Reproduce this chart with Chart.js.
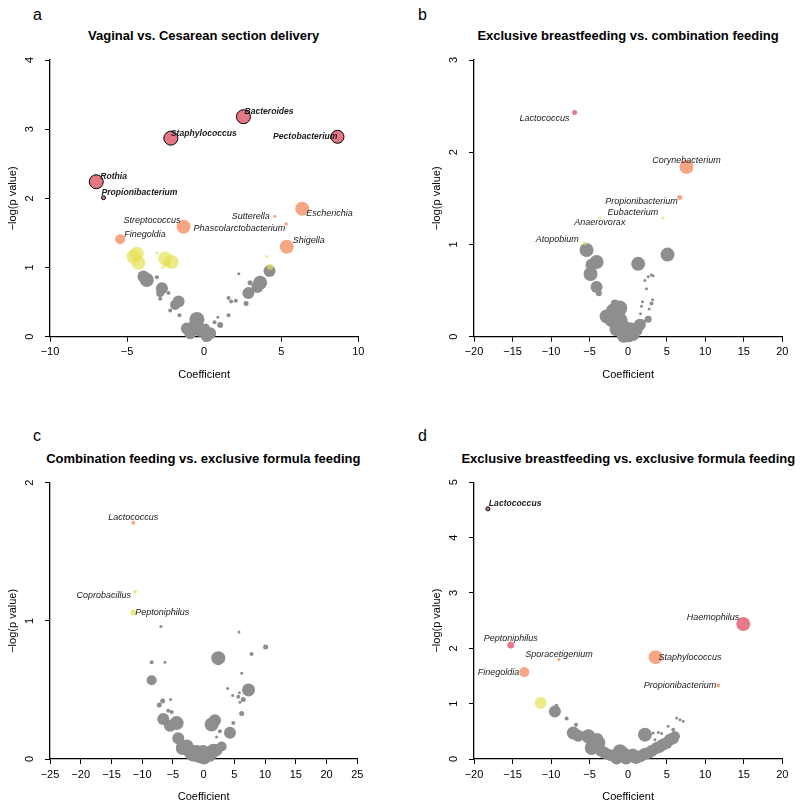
<!DOCTYPE html>
<html>
<head>
<meta charset="utf-8">
<script src="https://cdn.jsdelivr.net/npm/chart.js@4.4.0/dist/chart.umd.min.js"></script>
<style>
  body { margin: 0; background: #fff; width: 800px; height: 809px; position: relative; overflow: hidden;
         font-family: "Liberation Sans", Arial, Helvetica, sans-serif; color: #000; }
  canvas { position: absolute; }
  .letter { position: absolute; font-size: 16px; line-height: 16px; }
  .title { position: absolute; width: 400px; text-align: center; font-size: 13px; line-height: 13px; font-weight: bold; }
</style>
</head>
<body>
<div class="letter" style="left:33px;top:6.5px">a</div>
<div class="letter" style="left:418px;top:6.5px">b</div>
<div class="letter" style="left:33px;top:428px">c</div>
<div class="letter" style="left:418px;top:428px">d</div>
<div class="title" style="left:3.7px;top:29px">Vaginal vs. Cesarean section delivery</div>
<div class="title" style="left:428px;top:29px">Exclusive breastfeeding vs. combination feeding</div>
<div class="title" style="left:3.3px;top:452px">Combination feeding vs. exclusive formula feeding</div>
<div class="title" style="left:428.3px;top:452px">Exclusive breastfeeding vs. exclusive formula feeding</div>

<canvas id="pa" width="400" height="400" style="left:0;top:0"></canvas>
<canvas id="pb" width="400" height="400" style="left:400px;top:0"></canvas>
<canvas id="pc" width="400" height="409" style="left:0;top:400px"></canvas>
<canvas id="pd" width="400" height="409" style="left:400px;top:400px"></canvas>

<script>
// points: [coefficient, -log(p), size, genus]
// sig = after correction (black outline, bold label)

// --- a: Vaginal vs. Cesarean ---
const aSig = [[2.55, 3.18, 7, 'Bacteroides'], [-2.16, 2.87, 7, 'Staphylococcus'], [8.65, 2.89, 6.5, 'Pectobacterium'],
              [-7.0, 2.24, 7, 'Rothia'], [-6.53, 2.01, 2, 'Propionibacterium']];
const aSalmon = [[6.36, 1.85, 7, 'Escherichia'], [4.58, 1.74, 1.5, 'Sutterella'], [5.32, 1.63, 1.8, 'Phascolarctobacterium'],
                 [-1.34, 1.59, 7, 'Streptococcus'], [5.36, 1.30, 7, 'Shigella'], [-5.45, 1.41, 5, 'Finegoldia']];
const aYellow = [[-4.37, 1.20, 7], [-4.58, 1.16, 7], [-4.26, 1.07, 7], [-3.07, 1.21, 1.5], [-2.53, 1.13, 7],
                 [-2.1, 1.08, 7], [-2.42, 1.06, 4], [-2.68, 1.0, 1.5], [4.06, 1.16, 1.5], [4.28, 1.01, 3]];
const aGray = [[-3.72, 0.82, 7], [-3.94, 0.87, 6], [-3.07, 0.86, 2], [-2.74, 0.70, 6], [-2.85, 0.63, 4], [-2.85, 0.55, 2],
               [-2.31, 0.63, 2], [-1.66, 0.51, 6], [-1.88, 0.46, 5], [-2.2, 0.38, 2], [-1.6, 0.31, 2], [-0.47, 0.25, 7.5],
               [-0.6, 0.18, 6], [-1.12, 0.12, 6], [-0.9, 0.05, 6], [-0.69, 0.10, 6], [-0.26, 0.07, 5], [0.39, 0.05, 6],
               [0.17, 0.01, 6], [0.05, 0.12, 5], [1.04, 0.17, 3], [0.67, 0.21, 2], [0.89, 0.28, 1.5], [1.58, 0.31, 2],
               [1.58, 0.56, 2], [1.75, 0.51, 2], [2.05, 0.52, 2], [2.25, 0.91, 1.5], [2.98, 0.78, 2.5], [2.72, 0.48, 2.5],
               [2.87, 0.63, 6], [3.63, 0.78, 7], [3.45, 0.72, 6], [4.24, 0.95, 6]];

// --- b: Exclusive breastfeeding vs. combination ---
const bRed = [[-6.95, 2.43, 2.5, 'Lactococcus']];
const bSalmon = [[7.57, 1.84, 7, 'Corynebacterium'], [6.70, 1.51, 2.5, 'Propionibacterium']];
const bYellow = [[4.54, 1.29, 1.5, 'Eubacterium'], [-3.67, 1.29, 1.5, 'Anaerovorax'], [-5.62, 1.01, 2, 'Atopobium']];
const bGray = [[-5.4, 0.94, 7], [-4.1, 0.81, 7], [-4.75, 0.78, 6], [-4.88, 0.68, 7], [-4.1, 0.54, 6], [-3.8, 0.47, 3],
               [1.30, 0.79, 7], [5.11, 0.89, 7], [2.6, 0.65, 1.5], [3.24, 0.66, 1.5], [3.0, 0.67, 1.5], [2.17, 0.61, 1.5],
               [2.38, 0.52, 1.5], [3.16, 0.40, 1.5], [3.03, 0.36, 2], [1.86, 0.38, 1.5], [1.73, 0.33, 1.5], [2.73, 0.30, 1.5],
               [1.6, 0.25, 1.5], [2.6, 0.19, 3.5], [1.95, 0.16, 2.5], [-2.8, 0.22, 7], [-1.08, 0.31, 7.5], [-1.73, 0.36, 4],
               [-2.15, 0.18, 7], [-1.51, 0.22, 7.5], [-2.0, 0.28, 7], [-0.86, 0.07, 7], [-0.64, 0.11, 7], [-0.22, 0.04, 7],
               [0.0, 0.02, 7.5], [-1.5, 0.08, 7], [-1.0, 0.18, 7], [1.09, 0.07, 6], [1.52, 0.13, 6], [-0.56, 0.01, 7],
               [0.6, 0.03, 7], [0.3, 0.08, 7], [-1.2, 0.2, 7]];

// --- c: Combination vs. exclusive formula ---
const cSalmon = [[-11.45, 1.71, 2, 'Lactococcus']];
const cYellow = [[-11.18, 1.21, 2, 'Coprobacillus'], [-11.45, 1.06, 3, 'Peptoniphilus']];
const cGray = [[-6.95, 0.96, 1.5], [5.74, 0.92, 1.5], [10.08, 0.81, 2.5], [7.8, 0.76, 2], [-8.46, 0.70, 2], [-6.3, 0.70, 1.5],
               [2.38, 0.73, 7], [-8.46, 0.57, 5], [6.18, 0.62, 1.5], [3.9, 0.51, 1.5], [7.3, 0.50, 6.5], [5.8, 0.48, 1.5],
               [4.72, 0.46, 1.5], [5.63, 0.45, 2], [6.44, 0.43, 2.5], [5.9, 0.41, 1.5], [6.18, 0.33, 2.5], [4.82, 0.26, 2],
               [4.28, 0.19, 6], [1.3, 0.25, 7], [1.84, 0.28, 6], [2.1, 0.16, 1.5], [2.65, 0.20, 2], [2.1, 0.10, 1.5],
               [-6.67, 0.42, 2.5], [-7.22, 0.39, 2.5], [-5.37, 0.43, 1.5], [-5.76, 0.35, 2], [-5.2, 0.34, 2],
               [-6.57, 0.29, 6], [-4.4, 0.26, 7], [-5.48, 0.24, 6], [-4.13, 0.15, 6], [-2.77, 0.09, 7], [-1.14, 0.05, 7],
               [-0.6, 0.02, 7], [0.49, 0.04, 7], [2.12, 0.065, 6], [2.93, 0.09, 5], [0.05, 0.01, 7], [-2.0, 0.03, 6],
               [-3.4, 0.08, 7], [-2.3, 0.06, 7], [-1.6, 0.03, 7], [1.0, 0.03, 7], [1.6, 0.06, 7], [-0.1, 0.05, 7]];

// --- d: Exclusive breastfeeding vs. exclusive formula ---
const dSig = [[-18.2, 4.52, 2, 'Lactococcus']];
const dRed = [[14.93, 2.44, 7, 'Haemophilus'], [-15.24, 2.06, 3.5, 'Peptoniphilus']];
const dSalmon = [[-8.98, 1.80, 1.5, 'Sporacetigenium'], [3.56, 1.84, 7, 'Staphylococcus'],
                 [-13.47, 1.57, 5, 'Finegoldia'], [11.69, 1.33, 2, 'Propionibacterium']];
const dYellow = [[-11.35, 1.01, 6]];
const dGray = [[-9.5, 0.86, 6], [-9.3, 0.96, 2], [-7.98, 0.73, 2], [-7.12, 0.47, 6.5], [-6.77, 0.62, 2], [-5.17, 0.41, 7],
               [-4.52, 0.29, 7], [-4.73, 0.2, 7], [-3.74, 0.30, 6], [-3.0, 0.11, 6], [-1.06, 0.14, 7], [-1.5, 0.01, 6],
               [0.23, 0.05, 6], [-0.3, 0.01, 6], [1.0, 0.02, 6], [2.18, 0.44, 7], [2.6, 0.11, 6], [3.69, 0.2, 6],
               [4.55, 0.26, 6], [5.42, 0.35, 6], [6.07, 0.41, 5], [3.26, 0.47, 1.5], [3.91, 0.48, 1.5], [4.34, 0.46, 1.5],
               [3.48, 0.35, 1.5], [4.12, 0.32, 1.5], [6.29, 0.74, 1.5], [6.72, 0.71, 1.5], [7.15, 0.68, 1.5],
               [5.2, 0.59, 1.5], [5.85, 0.53, 2], [-6.5, 0.42, 6], [-4.0, 0.36, 6], [-3.5, 0.15, 6], [-2.3, 0.07, 6],
               [-0.6, 0.09, 7], [0.6, 0.08, 6], [1.6, 0.05, 6], [2.1, 0.09, 6], [3.1, 0.15, 6], [4.1, 0.22, 6],
               [5.0, 0.29, 6], [5.8, 0.37, 6]];

const xTicksA = [-10, 10, 5], xTicksB = [-20, 20, 5], xTicksC = [-25, 25, 5], xTicksD = [-20, 20, 5];
const yMaxA = 4, yMaxB = 3, yMaxC = 2, yMaxD = 5;

// label placement [dx, dy, align]
const labelPosA = { Bacteroides: [1, -5, 'left'], Staphylococcus: [0, -5, 'left'], Pectobacterium: [0, 0, 'right'],
  Rothia: [4, -5, 'left'], Propionibacterium: [-2, -5, 'left'], Escherichia: [4, 5, 'left'], Sutterella: [-5, 0, 'right'],
  Phascolarctobacterium: [-1, 5, 'right'], Streptococcus: [-3, -6, 'right'], Shigella: [6, -6, 'left'], Finegoldia: [4, -5, 'left'] };
const labelPosB = { Lactococcus: [-5, 6, 'right'], Corynebacterium: [0, -6, 'center'], Propionibacterium: [-2, 4, 'right'],
  Eubacterium: [-5, -5, 'right'], Anaerovorax: [0, 5, 'center'], Atopobium: [-6, -4, 'right'] };
const labelPosC = { Lactococcus: [0, -5, 'center'], Coprobacillus: [-4, 4, 'right'], Peptoniphilus: [2, 0, 'left'] };
const labelPosD = { Lactococcus: [1, -5, 'left'], Haemophilus: [-4, -6, 'right'], Peptoniphilus: [0, -6, 'center'],
  Sporacetigenium: [0, -5, 'center'], Staphylococcus: [3, 0, 'left'], Finegoldia: [-5, 0, 'right'], Propionibacterium: [-2, 0, 'right'] };

const FONT = '"Liberation Sans", Arial, Helvetica, sans-serif';
const COLORS = {
    sig: 'rgba(229, 118, 134, 1)',
    red: 'rgba(229, 122, 138, 1)',
    salmon: 'rgba(247, 166, 132, 1)',
    yellow: 'rgba(229, 225, 86, 0.7)',
    gray: 'rgba(142, 142, 142, 1)'
};

function toPoints(list) {
    return list.map(p => ({ x: p[0], y: p[1], r: p[2], name: p[3] }));
}

function makeSet(list, kind) {
    return {
        data: toPoints(list),
        backgroundColor: COLORS[kind],
        borderColor: kind === 'sig' ? '#000' : COLORS[kind],
        borderWidth: kind === 'sig' ? 1 : 0,
        clip: false,
        bold: kind === 'sig'
    };
}

function minusFmt(v) {
    return v < 0 ? '\u2212' + Math.abs(v) : String(v);
}

// draws the rotated y tick labels and the genus labels
function extrasPlugin(labelPos) {
    return {
        id: 'extras',
        afterDatasetsDraw(chart) {
            const ctx = chart.ctx;
            const yScale = chart.scales.y;
            ctx.save();
            ctx.fillStyle = '#000';
            ctx.font = '11px ' + FONT;
            ctx.textAlign = 'center';
            ctx.textBaseline = 'middle';
            yScale.ticks.forEach(t => {
                const py = yScale.getPixelForValue(t.value);
                ctx.save();
                ctx.translate(chart.chartArea.left - 20, py);
                ctx.rotate(-Math.PI / 2);
                ctx.fillText(String(t.value), 0, 0);
                ctx.restore();
            });

            ctx.fillStyle = '#1a1a1a';
            chart.data.datasets.forEach((ds, i) => {
                const meta = chart.getDatasetMeta(i);
                ds.data.forEach((pt, j) => {
                    if (!pt.name) return;
                    const pos = labelPos[pt.name];
                    const el = meta.data[j];
                    ctx.font = ds.bold ? 'italic bold 8.6px ' + FONT : 'italic 9px ' + FONT;
                    ctx.textAlign = pos[2];
                    ctx.fillText(pt.name, el.x + pos[0], el.y + pos[1]);
                });
            });
            ctx.restore();
        }
    };
}

function buildPanel(id, sets, xTicks, yMax, labelPos, box) {
    const font = { family: FONT, size: 11 };
    new Chart(document.getElementById(id), {
        type: 'bubble',
        data: { datasets: sets },
        options: {
            responsive: false,
            animation: false,
            devicePixelRatio: 1,
            events: [],
            layout: { padding: { left: 0, top: box.top, right: box.right, bottom: box.bottom } },
            plugins: { legend: { display: false }, tooltip: { enabled: false } },
            scales: {
                x: {
                    type: 'linear', min: xTicks[0], max: xTicks[1],
                    ticks: { stepSize: xTicks[2], font: font, color: '#000', padding: 4, maxRotation: 0, callback: minusFmt },
                    grid: { display: true, drawOnChartArea: false, drawTicks: true, tickLength: 5, color: '#000', lineWidth: 1 },
                    border: { display: true, color: '#000', width: 1.3 },
                    title: { display: true, text: 'Coefficient', font: font, color: '#000', padding: { top: 0, bottom: box.xTitlePad } },
                    afterFit: s => { s.height = 50; }
                },
                y: {
                    type: 'linear', min: 0, max: yMax,
                    ticks: { stepSize: 1, display: false },
                    grid: { display: true, drawOnChartArea: false, drawTicks: true, tickLength: 5, color: '#000', lineWidth: 1 },
                    border: { display: true, color: '#000', width: 1.3 },
                    title: { display: true, text: '\u2212log(p value)', font: font, color: '#000', padding: { top: box.yTitlePad, bottom: 0 } },
                    afterFit: s => { s.width = box.left; }
                }
            }
        },
        plugins: [extrasPlugin(labelPos)]
    });
}

// first dataset is drawn on top
buildPanel('pa', [makeSet(aSig, 'sig'), makeSet(aSalmon, 'salmon'), makeSet(aYellow, 'yellow'), makeSet(aGray, 'gray')],
    xTicksA, yMaxA, labelPosA, { left: 50, top: 60, right: 41.7, bottom: 13.3, xTitlePad: 5.1, yTitlePad: 6.7 });
buildPanel('pb', [makeSet(bRed, 'red'), makeSet(bSalmon, 'salmon'), makeSet(bYellow, 'yellow'), makeSet(bGray, 'gray')],
    xTicksB, yMaxB, labelPosB, { left: 74, top: 60, right: 17.7, bottom: 13.3, xTitlePad: 5.1, yTitlePad: 30.1 });
buildPanel('pc', [makeSet(cSalmon, 'salmon'), makeSet(cYellow, 'yellow'), makeSet(cGray, 'gray')],
    xTicksC, yMaxC, labelPosC, { left: 50, top: 82.7, right: 42.7, bottom: 0, xTitlePad: 5.7, yTitlePad: 6.7 });
buildPanel('pd', [makeSet(dSig, 'sig'), makeSet(dRed, 'red'), makeSet(dSalmon, 'salmon'), makeSet(dYellow, 'yellow'), makeSet(dGray, 'gray')],
    xTicksD, yMaxD, labelPosD, { left: 74, top: 82.3, right: 17.7, bottom: 0, xTitlePad: 5.7, yTitlePad: 30.1 });
</script>
</body>
</html>
